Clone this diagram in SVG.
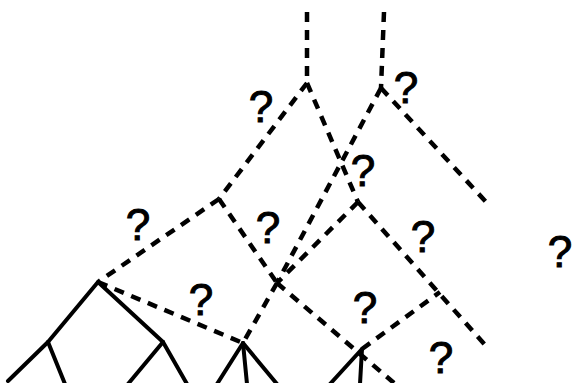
<svg xmlns="http://www.w3.org/2000/svg" width="574" height="383" viewBox="0 0 574 383">
<style>
.d{stroke:#000;stroke-width:4.5;fill:none;stroke-dasharray:10 8}
.s{stroke:#000;stroke-width:4;fill:none;stroke-linecap:round}
.q{font-family:"Liberation Sans",Arial,sans-serif;font-size:44px;fill:#000;stroke:#000;stroke-width:1;text-anchor:middle}
</style>
<rect width="574" height="383" fill="#fff"/>
<g id="connectors">
<line class="d" x1="307" y1="12" x2="307" y2="83"/>
<line class="d" x1="384" y1="12" x2="381" y2="88"/>
<line class="d" x1="307" y1="83" x2="219" y2="199"/>
<line class="d" x1="307" y1="83" x2="358" y2="202"/>
<line class="d" x1="381" y1="88" x2="277" y2="283"/>
<line class="d" x1="381" y1="88" x2="487" y2="203"/>
<line class="d" x1="219" y1="199" x2="98" y2="282"/>
<line class="d" x1="219" y1="199" x2="277" y2="283"/>
<line class="d" x1="358" y1="202" x2="277" y2="283"/>
<line class="d" x1="358" y1="202" x2="486" y2="346"/>
<line class="d" x1="98" y1="282" x2="243" y2="343"/>
<line class="d" x1="277" y1="283" x2="243" y2="343"/>
<line class="d" x1="277" y1="283" x2="394" y2="383"/>
<line class="d" x1="362" y1="349" x2="440" y2="292"/>
<line class="s" x1="98" y1="282" x2="48" y2="342"/>
<line class="s" x1="48" y1="342" x2="8" y2="381"/>
<line class="s" x1="48" y1="342" x2="65" y2="384"/>
<line class="s" x1="98" y1="282" x2="163" y2="342"/>
<line class="s" x1="163" y1="342" x2="128" y2="384"/>
<line class="s" x1="163" y1="342" x2="187" y2="384"/>
<line class="s" x1="243" y1="343" x2="217" y2="384"/>
<line class="s" x1="243" y1="343" x2="247" y2="384"/>
<line class="s" x1="243" y1="343" x2="277" y2="384"/>
<line class="s" x1="362" y1="349" x2="330" y2="384"/>
<line class="s" x1="362" y1="349" x2="360" y2="384"/>
</g>
<g id="q1"><text class="q" x="261" y="122">?</text></g>
<g id="q2"><text class="q" x="406" y="103">?</text></g>
<g id="q3"><text class="q" x="138" y="240">?</text></g>
<g id="q4"><text class="q" x="268" y="243">?</text></g>
<g id="q5"><text class="q" x="363" y="186">?</text></g>
<g id="q6"><text class="q" x="423" y="252">?</text></g>
<g id="q7"><text class="q" x="201" y="315">?</text></g>
<g id="q8"><text class="q" x="365" y="323">?</text></g>
<g id="q9"><text class="q" x="441" y="373">?</text></g>
<g id="q10"><text class="q" x="560" y="267">?</text></g>
</svg>
